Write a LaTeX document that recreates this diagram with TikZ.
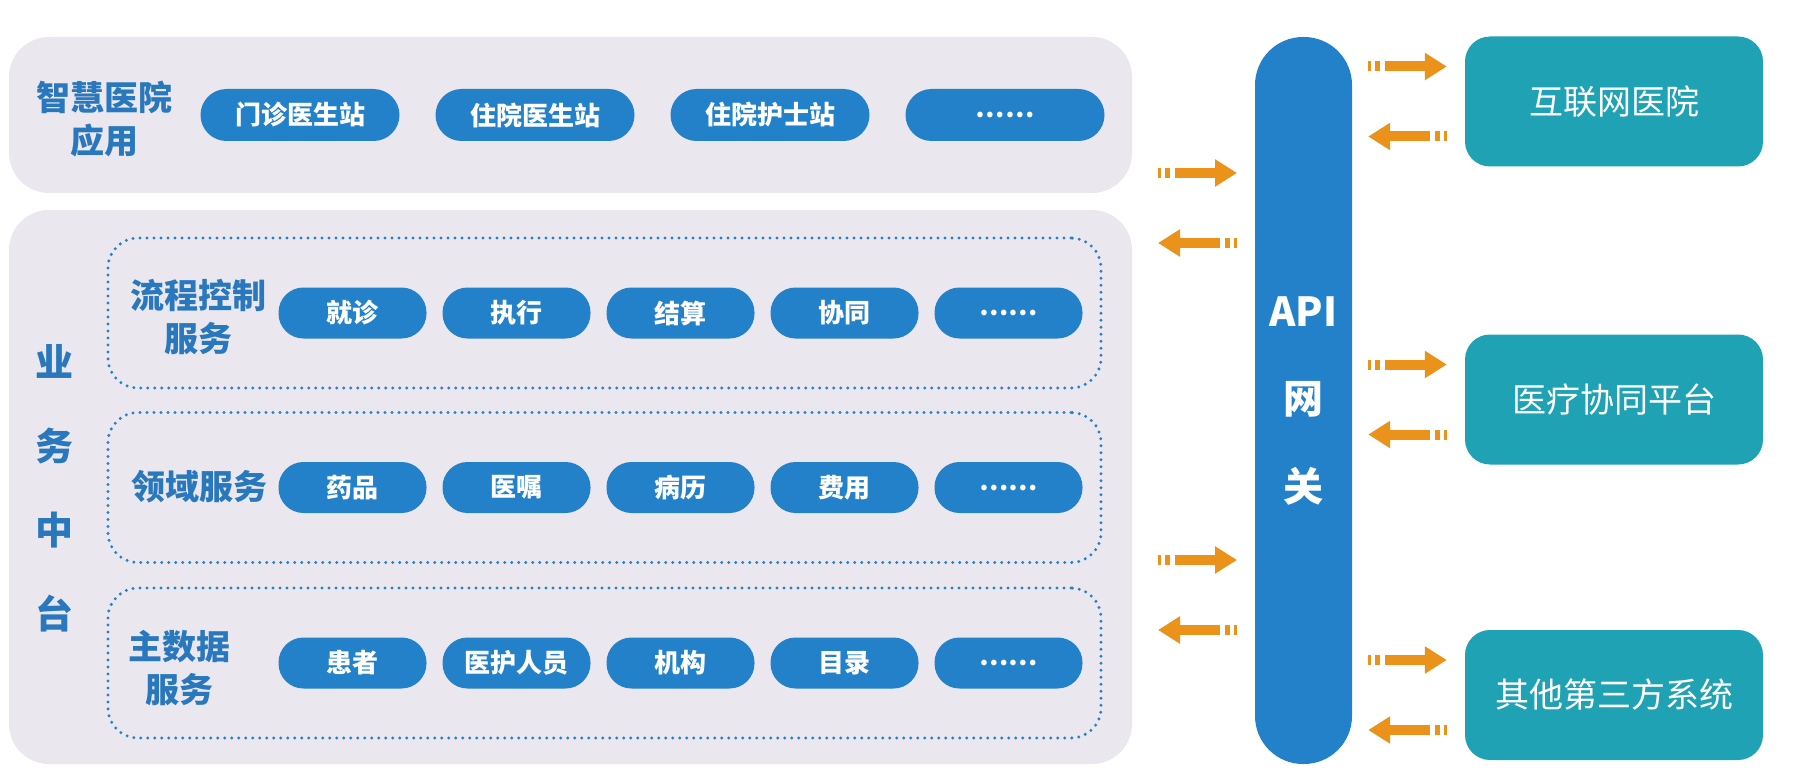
\documentclass[tikz,border=0pt]{standalone}
\usepackage{fontspec}
\setmainfont{Noto Sans CJK SC}
\usetikzlibrary{arrows.meta,calc}

\definecolor{panelgray}{RGB}{234,231,238}
\definecolor{pillblue}{RGB}{35,129,202}
\definecolor{labelblue}{RGB}{41,120,189}
\definecolor{partnerteal}{RGB}{31,162,180}
\definecolor{floworange}{RGB}{234,146,26}

\tikzset{
  panel/.style={fill=panelgray, rounded corners=40pt, inner sep=0pt},
  dotbox/.style={draw=pillblue, line width=3.3pt, dash pattern=on 0pt off 7pt,
    line cap=round, rounded corners=30pt, minimum width=993pt, minimum height=150pt},
  grouptitle/.style={text=labelblue, align=center, inner sep=0pt,
    font=\fontsize{34}{43}\selectfont\bfseries},
  toppill/.style={fill=pillblue, text=white, rounded corners=26pt, inner sep=0pt,
    minimum width=199pt, minimum height=52pt, font=\fontsize{26}{30}\selectfont\bfseries},
  svcpill/.style={toppill, rounded corners=25pt, minimum width=148pt, minimum height=51pt},
  gateway/.style={fill=pillblue, text=white, rounded corners=48pt, align=center,
    minimum width=97pt, minimum height=727pt, font=\fontsize{40}{87.5}\selectfont\bfseries},
  partner/.style={fill=partnerteal, text=white, rounded corners=25pt,
    minimum width=298pt, minimum height=130pt, font=\fontsize{34}{40}\selectfont},
  flowarrow/.style={draw=floworange, line width=10pt,
    dash pattern=on 3pt off 4pt on 5pt off 5pt on 300pt off 10pt,
    -{Triangle[length=22pt,width=26pt]}}
}

\begin{document}
\begin{tikzpicture}[x=1pt, y=-1pt]
  \useasboundingbox (0,0) rectangle (1800,781);

  % Background panels
  \node[panel, minimum width=1123pt, minimum height=156pt] (apps) at (570.5,115) {};
  \node[panel, minimum width=1123pt, minimum height=554pt] (mid) at (570.5,487) {};

  % Smart hospital applications
  \node[grouptitle] (appsTitle) at (104,119) {智慧医院\\应用};
  \foreach \t [count=\i] in {门诊医生站,住院医生站,住院护士站,……}
    \node[toppill] (app\i) at ({65+235*\i},115) {\t};

  % Business middle platform
  \node[grouptitle, font=\fontsize{38}{84}\selectfont\bfseries] (midTitle) at (54,488) {业\\务\\中\\台};

  \node[dotbox] (flowBox) at (604.5,313) {};
  \node[dotbox] (domainBox) at (604.5,487.5) {};
  \node[dotbox] (masterBox) at (604.5,663) {};

  \node[grouptitle] (flowTitle) at (198,317) {流程控制\\服务};
  \node[grouptitle] (domainTitle) at (199,487) {领域服务};
  \node[grouptitle] (masterTitle) at (179,668) {主数据\\服务};

  \foreach \t [count=\i] in {就诊,执行,结算,协同,……}
    \node[svcpill] (flow\i) at ({188.5+164*\i},313) {\t};
  \foreach \t [count=\i] in {药品,医嘱,病历,费用,……}
    \node[svcpill] (domain\i) at ({188.5+164*\i},487.5) {\t};
  \foreach \t [count=\i] in {患者,医护人员,机构,目录,……}
    \node[svcpill] (master\i) at ({188.5+164*\i},663) {\t};

  % API gateway
  \node[gateway] (api) at (1303.5,400.5) {API\\网\\关};

  % Outside systems
  \node[partner] (net) at (1614,101.5) {互联网医院};
  \node[partner] (coop) at (1614,399.5) {医疗协同平台};
  \node[partner] (other) at (1614,695) {其他第三方系统};

  % Arrows between platform and gateway
  \foreach \y [count=\i] in {173,560} {
    \coordinate (toApi\i) at (1158,\y);
    \coordinate (atApi\i) at (1237,\y);
    \coordinate (fromApi\i) at (1237,\y+70);
    \coordinate (backMid\i) at (1158,\y+70);
    \draw[flowarrow] (toApi\i) -- (atApi\i);
    \draw[flowarrow] (fromApi\i) -- (backMid\i);
  }

  % Arrows between gateway and outside systems
  \foreach \b in {net,coop,other} {
    \draw[flowarrow] ($(api.east |- \b.west)+(16,-35)$) -- ($(\b.west)+(-18,-35)$);
    \draw[flowarrow] ($(\b.west)+(-18,35)$) -- ($(api.east |- \b.west)+(16,35)$);
  }
\end{tikzpicture}
\end{document}
